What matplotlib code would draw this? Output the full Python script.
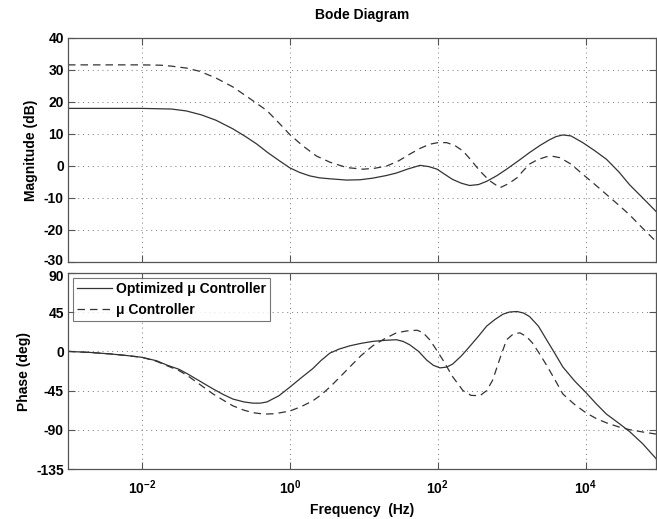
import numpy as np
import matplotlib
matplotlib.use("Agg")
import matplotlib.pyplot as plt
import matplotlib.transforms as mtransforms

# -------------------------------------------------------------------
# Data (frequency as log10(Hz))
# -------------------------------------------------------------------
mag_opt_logf = [-3, -2.5, -2, -1.6, -1.4, -1.2, -1.0, -0.77, -0.6, -0.45, -0.3, -0.14,
                0.0, 0.13, 0.27, 0.4, 0.54, 0.77, 0.95, 1.12, 1.3, 1.44, 1.6, 1.76,
                1.88, 1.99, 2.1, 2.2, 2.32, 2.43, 2.55, 2.66, 2.8, 2.93, 3.1, 3.24,
                3.38, 3.51, 3.6, 3.69, 3.8, 3.96, 4.12, 4.28, 4.45, 4.59, 4.75, 4.95]
mag_opt_db = [18.0, 18.0, 18.0, 17.8, 17.2, 16.0, 14.3, 11.6, 9.2, 6.9, 4.2, 1.6,
              -0.6, -2.0, -3.1, -3.7, -4.0, -4.4, -4.3, -3.8, -3.0, -2.2, -0.9, 0.2,
              -0.2, -1.0, -2.7, -4.2, -5.4, -6.1, -5.8, -4.8, -3.0, -1.0, 1.8, 4.2,
              6.4, 8.2, 9.2, 9.7, 9.4, 7.3, 4.8, 2.1, -1.9, -5.8, -9.5, -14.2]

mag_mu_logf = [-3, -2, -1.75, -1.6, -1.4, -1.22, -1.0, -0.77, -0.55, -0.31, -0.15, 0.0,
               0.18, 0.36, 0.54, 0.77, 0.99, 1.15, 1.31, 1.47, 1.62, 1.76, 1.89, 2.0,
               2.12, 2.23, 2.34, 2.45, 2.57, 2.7, 2.84, 2.95, 3.07, 3.15, 3.24, 3.35,
               3.47, 3.56, 3.65, 3.8, 3.96, 4.12, 4.28, 4.45, 4.59, 4.75, 4.95]
mag_mu_db = [31.6, 31.6, 31.5, 31.2, 30.6, 29.6, 27.5, 24.7, 21.2, 17.3, 13.5, 9.8,
             6.2, 3.1, 1.2, -0.5, -1.0, -0.7, 0.0, 1.6, 3.7, 5.5, 6.8, 7.3,
             7.3, 6.4, 4.7, 1.8, -1.6, -4.6, -6.8, -5.6, -3.7, -1.6, 0.6, 2.0,
             2.9, 3.0, 2.6, 0.6, -2.6, -5.7, -8.9, -12.3, -15.2, -19.0, -23.6]

ph_opt_logf = [-3, -2.7, -2.43, -2.2, -2, -1.8, -1.66, -1.5, -1.39, -1.2, -1.04, -0.9,
               -0.77, -0.62, -0.5, -0.4, -0.31, -0.15, 0, 0.15, 0.31, 0.42, 0.54, 0.67,
               0.81, 0.96, 1.12, 1.3, 1.44, 1.53, 1.62, 1.74, 1.85, 1.94, 2.03, 2.12,
               2.2, 2.32, 2.43, 2.55, 2.66, 2.77, 2.88, 2.97, 3.07, 3.16, 3.24, 3.36,
               3.47, 3.58, 3.69, 3.85, 4.0, 4.14, 4.28, 4.44, 4.59, 4.77, 4.95]
ph_opt_deg = [0, -1.2, -2.9, -4.8, -6.8, -10.8, -15.8, -20.5, -25.5, -35, -43, -49.5,
              -54.7, -58, -59.4, -59.4, -58, -51, -41, -30.5, -19.7, -10.5, -2, 2.8,
              6.4, 9.2, 11.5, 12.8, 13.4, 11.5, 7.6, 0, -10, -16, -18.9, -18,
              -14.6, -5, 5.6, 17.5, 29, 36.5, 42.7, 45.2, 45.8, 44, 40, 29,
              13.4, -2, -17.8, -34, -47, -60, -72, -82, -91.8, -106, -123]

ph_mu_logf = [-3, -2.7, -2.43, -2.2, -2, -1.8, -1.66, -1.5, -1.39, -1.2, -1.04, -0.9,
              -0.77, -0.62, -0.5, -0.35, -0.2, 0, 0.15, 0.31, 0.42, 0.54, 0.67, 0.81,
              0.96, 1.12, 1.28, 1.44, 1.58, 1.72, 1.8, 1.89, 1.98, 2.07, 2.2, 2.34,
              2.45, 2.57, 2.66, 2.74, 2.84, 2.93, 3.02, 3.11, 3.2, 3.28, 3.37, 3.47,
              3.58, 3.69, 3.85, 4.0, 4.14, 4.28, 4.44, 4.59, 4.77, 4.95]
ph_mu_deg = [0, -1.2, -2.9, -4.8, -6.8, -11.5, -16.5, -22, -27.5, -39, -48.8, -56,
             -62.5, -67.5, -70.3, -72, -71.5, -68.4, -63.5, -56.7, -50, -41, -30, -17.8,
             -5, 6.4, 14.5, 21.3, 23.5, 24.3, 21.5, 13.4, 2, -10, -29, -45,
             -50.5, -50.8, -45, -33.3, -8, 13.4, 20, 21.3, 17, 9.6, -2, -15.8,
             -32, -48.8, -61, -70.3, -77, -82, -86.5, -89.8, -92.5, -94.9]

mag_ticks = [-30, -20, -10, 0, 10, 20, 30, 40]
phase_ticks = [-135, -90, -45, 0, 45, 90]
freq_ticks = [1e-2, 1e0, 1e2, 1e4]
freq_labels = [r"$\mathbf{10^{-2}}$", r"$\mathbf{10^{0}}$", r"$\mathbf{10^{2}}$",
               r"$\mathbf{10^{4}}$"]

plt.rcParams["font.family"] = ["Liberation Sans", "DejaVu Sans"]
plt.rcParams["font.size"] = 10
plt.rcParams["font.weight"] = "bold"
plt.rcParams["axes.labelweight"] = "bold"
plt.rcParams["axes.titleweight"] = "bold"
plt.rcParams["axes.unicode_minus"] = False
plt.rcParams["mathtext.fontset"] = "custom"
plt.rcParams["mathtext.rm"] = "Liberation Sans"
plt.rcParams["mathtext.bf"] = "Liberation Sans:bold"

LINE = "#333333"
FRAME = "#555555"
DASH = (6, 4)

fig = plt.figure(figsize=(6.57, 5.19), dpi=100)
ax1 = fig.add_axes([0.1035, 0.4952, 0.895, 0.4316])
ax2 = fig.add_axes([0.1035, 0.0963, 0.895, 0.3777])

ax1.plot(10 ** np.array(mag_opt_logf), mag_opt_db, color=LINE, lw=0.9)
ax1.plot(10 ** np.array(mag_mu_logf), mag_mu_db, color=LINE, lw=0.9, dashes=DASH)
ax2.plot(10 ** np.array(ph_opt_logf), ph_opt_deg, color=LINE, lw=0.9,
         label="Optimized μ Controller")
ax2.plot(10 ** np.array(ph_mu_logf), ph_mu_deg, color=LINE, lw=0.9, dashes=DASH,
         label="μ Controller")

for ax, ticks in ((ax1, mag_ticks), (ax2, phase_ticks)):
    ax.set_xscale("log")
    ax.set_xlim(1e-3, 10 ** 4.95)
    ax.set_ylim(ticks[0], ticks[-1])
    ax.set_yticks(ticks)
    ax.set_xticks(freq_ticks)
    ax.xaxis.set_minor_locator(matplotlib.ticker.NullLocator())
    ax.grid(True, ls=(0, (1, 4)), color="#777777", lw=0.7)
    ax.tick_params(direction="in", length=5, top=True, right=True, color=FRAME,
                   labelsize=10, pad=3)
    ax.tick_params(axis="x", pad=7)
    for s in ax.spines.values():
        s.set_color(FRAME)
        s.set_linewidth(0.9)

ax1.set_xticklabels([])
ax2.set_xticklabels(freq_labels)

# -30 and 90 sit right next to each other, nudge them apart a little
fig.canvas.draw()
ax1.get_yticklabels()[0].set_transform(
    ax1.get_yticklabels()[0].get_transform()
    + mtransforms.ScaledTranslation(0, 2 / 72, fig.dpi_scale_trans))
ax2.get_yticklabels()[-1].set_transform(
    ax2.get_yticklabels()[-1].get_transform()
    + mtransforms.ScaledTranslation(0, -2 / 72, fig.dpi_scale_trans))

ax1.set_ylabel("Magnitude (dB)", labelpad=4)
ax2.set_ylabel("Phase (deg)", labelpad=4)
ax2.set_xlabel("Frequency  (Hz)", labelpad=4)
ax1.set_title("Bode Diagram", fontsize=10, pad=14)

leg = ax2.legend(loc="upper left", fontsize=10, frameon=True, fancybox=False,
                 handlelength=2.5, borderaxespad=0.35, handletextpad=0.3,
                 labelspacing=0.5, borderpad=0.3)
leg.get_frame().set_edgecolor(FRAME)
leg.get_frame().set_linewidth(0.8)

fig.savefig("out.png", dpi=100)
